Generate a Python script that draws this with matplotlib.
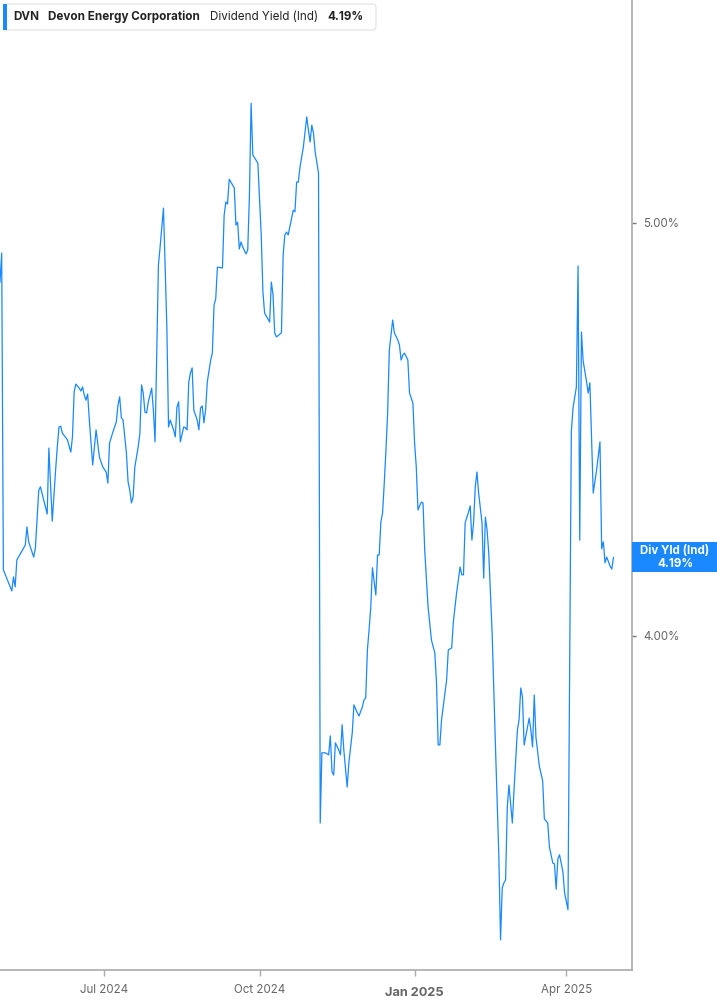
import numpy as np
import pandas as pd
import matplotlib
matplotlib.use('Agg')
import matplotlib.pyplot as plt
import matplotlib.dates as mdates
from matplotlib.patches import FancyBboxPatch, Rectangle

# dividend yield (%)
dates = ['2024-04-30', '2024-05-01', '2024-05-02', '2024-05-07', '2024-05-08', '2024-05-09',
         '2024-05-10', '2024-05-15', '2024-05-16', '2024-05-17', '2024-05-20', '2024-05-21',
         '2024-05-23', '2024-05-24', '2024-05-28', '2024-05-29', '2024-05-31', '2024-06-02',
         '2024-06-03', '2024-06-04', '2024-06-05', '2024-06-06', '2024-06-09', '2024-06-11',
         '2024-06-12', '2024-06-13', '2024-06-14', '2024-06-16', '2024-06-17', '2024-06-18',
         '2024-06-19', '2024-06-20', '2024-06-21', '2024-06-22', '2024-06-24', '2024-06-26',
         '2024-06-28', '2024-06-30', '2024-07-02', '2024-07-03', '2024-07-04', '2024-07-06',
         '2024-07-08', '2024-07-09', '2024-07-10', '2024-07-11', '2024-07-12', '2024-07-14',
         '2024-07-15', '2024-07-16', '2024-07-17', '2024-07-18', '2024-07-19', '2024-07-21',
         '2024-07-22', '2024-07-23', '2024-07-24', '2024-07-25', '2024-07-26', '2024-07-27',
         '2024-07-29', '2024-07-30', '2024-07-31', '2024-08-02', '2024-08-03', '2024-08-05',
         '2024-08-07', '2024-08-08', '2024-08-09', '2024-08-11', '2024-08-12', '2024-08-13',
         '2024-08-14', '2024-08-15', '2024-08-17', '2024-08-18', '2024-08-19', '2024-08-20',
         '2024-08-21', '2024-08-22', '2024-08-23', '2024-08-25', '2024-08-26', '2024-08-27',
         '2024-08-28', '2024-08-29', '2024-08-30', '2024-08-31', '2024-09-02', '2024-09-03',
         '2024-09-04', '2024-09-05', '2024-09-06', '2024-09-09', '2024-09-10', '2024-09-11',
         '2024-09-12', '2024-09-13', '2024-09-16', '2024-09-17', '2024-09-18', '2024-09-19',
         '2024-09-20', '2024-09-21', '2024-09-23', '2024-09-24', '2024-09-25', '2024-09-26',
         '2024-09-27', '2024-09-30', '2024-10-02', '2024-10-03', '2024-10-04', '2024-10-07',
         '2024-10-08', '2024-10-09', '2024-10-10', '2024-10-11', '2024-10-14', '2024-10-15',
         '2024-10-16', '2024-10-17', '2024-10-18', '2024-10-21', '2024-10-22', '2024-10-23',
         '2024-10-24', '2024-10-25', '2024-10-27', '2024-10-29', '2024-10-30', '2024-10-31',
         '2024-11-01', '2024-11-02', '2024-11-03', '2024-11-05', '2024-11-06', '2024-11-07',
         '2024-11-09', '2024-11-11', '2024-11-12', '2024-11-13', '2024-11-14', '2024-11-15',
         '2024-11-17', '2024-11-18', '2024-11-19', '2024-11-20', '2024-11-22', '2024-11-23',
         '2024-11-25', '2024-11-26', '2024-11-28', '2024-11-29', '2024-12-01', '2024-12-02',
         '2024-12-03', '2024-12-04', '2024-12-05', '2024-12-06', '2024-12-07', '2024-12-08',
         '2024-12-09', '2024-12-10', '2024-12-11', '2024-12-12', '2024-12-13', '2024-12-14',
         '2024-12-15', '2024-12-16', '2024-12-17', '2024-12-19', '2024-12-20', '2024-12-22',
         '2024-12-23', '2024-12-24', '2024-12-25', '2024-12-26', '2024-12-28', '2024-12-29',
         '2024-12-31', '2025-01-01', '2025-01-02', '2025-01-03', '2025-01-04', '2025-01-05',
         '2025-01-06', '2025-01-07', '2025-01-09', '2025-01-11', '2025-01-13', '2025-01-14',
         '2025-01-15', '2025-01-16', '2025-01-17', '2025-01-20', '2025-01-21', '2025-01-23',
         '2025-01-24', '2025-01-26', '2025-01-28', '2025-01-29', '2025-01-30', '2025-01-31',
         '2025-02-02', '2025-02-03', '2025-02-04', '2025-02-05', '2025-02-06', '2025-02-07',
         '2025-02-08', '2025-02-10', '2025-02-11', '2025-02-12', '2025-02-13', '2025-02-14',
         '2025-02-16', '2025-02-18', '2025-02-20', '2025-02-21', '2025-02-22', '2025-02-23',
         '2025-02-24', '2025-02-25', '2025-02-26', '2025-02-28', '2025-03-01', '2025-03-02',
         '2025-03-03', '2025-03-04', '2025-03-05', '2025-03-06', '2025-03-07', '2025-03-09',
         '2025-03-10', '2025-03-11', '2025-03-12', '2025-03-13', '2025-03-14', '2025-03-16',
         '2025-03-18', '2025-03-19', '2025-03-21', '2025-03-22', '2025-03-24', '2025-03-25',
         '2025-03-26', '2025-03-27', '2025-03-28', '2025-03-30', '2025-03-31', '2025-04-02',
         '2025-04-04', '2025-04-05', '2025-04-07', '2025-04-08', '2025-04-09', '2025-04-10',
         '2025-04-11', '2025-04-13', '2025-04-14', '2025-04-15', '2025-04-16', '2025-04-17',
         '2025-04-19', '2025-04-21', '2025-04-22', '2025-04-23', '2025-04-24', '2025-04-25',
         '2025-04-27', '2025-04-28', '2025-04-29']

yields = [4.857, 4.927, 4.160, 4.109, 4.143, 4.119,
          4.184, 4.220, 4.264, 4.228, 4.191, 4.213,
          4.353, 4.361, 4.295, 4.455, 4.278, 4.402,
          4.458, 4.506, 4.508, 4.491, 4.475, 4.445,
          4.482, 4.591, 4.610, 4.600, 4.593, 4.603,
          4.583, 4.571, 4.586, 4.523, 4.414, 4.499,
          4.433, 4.409, 4.397, 4.370, 4.467, 4.494,
          4.518, 4.559, 4.579, 4.528, 4.523, 4.443,
          4.373, 4.353, 4.322, 4.337, 4.409, 4.458,
          4.491, 4.608, 4.588, 4.542, 4.540, 4.567,
          4.600, 4.547, 4.470, 4.898, 4.942, 5.036,
          4.748, 4.506, 4.523, 4.499, 4.482, 4.554,
          4.567, 4.470, 4.506, 4.504, 4.499, 4.615,
          4.637, 4.649, 4.547, 4.523, 4.499, 4.552,
          4.557, 4.516, 4.547, 4.615, 4.668, 4.685,
          4.801, 4.816, 4.893, 4.891, 5.019, 5.051,
          5.046, 5.106, 5.085, 4.995, 5.002, 4.937,
          4.954, 4.942, 4.925, 4.935, 5.068, 5.290,
          5.165, 5.145, 4.971, 4.833, 4.782, 4.760,
          4.857, 4.826, 4.734, 4.724, 4.734, 4.922,
          4.971, 4.978, 4.971, 5.031, 5.027, 5.099,
          5.099, 5.135, 5.184, 5.257, 5.225, 5.196,
          5.237, 5.218, 5.172, 5.121, 3.547, 3.717,
          3.717, 3.712, 3.758, 3.671, 3.663, 3.741,
          3.724, 3.712, 3.785, 3.724, 3.634, 3.693,
          3.765, 3.833, 3.814, 3.806, 3.828, 3.845,
          3.850, 3.966, 4.015, 4.070, 4.165, 4.131,
          4.099, 4.196, 4.196, 4.276, 4.298, 4.370,
          4.450, 4.540, 4.692, 4.765, 4.734, 4.717,
          4.705, 4.668, 4.680, 4.685, 4.668, 4.588,
          4.564, 4.467, 4.409, 4.305, 4.315, 4.324,
          4.322, 4.208, 4.070, 3.990, 3.959, 3.886,
          3.736, 3.736, 3.797, 3.893, 3.966, 3.971,
          4.034, 4.107, 4.167, 4.148, 4.148, 4.274,
          4.300, 4.315, 4.232, 4.274, 4.361, 4.397,
          4.346, 4.274, 4.140, 4.288, 4.257, 4.201,
          4.007, 3.731, 3.465, 3.264, 3.390, 3.402,
          3.409, 3.586, 3.639, 3.547, 3.627, 3.700,
          3.772, 3.797, 3.874, 3.852, 3.736, 3.780,
          3.801, 3.772, 3.731, 3.857, 3.755, 3.685,
          3.649, 3.557, 3.547, 3.489, 3.450, 3.448,
          3.387, 3.460, 3.470, 3.429, 3.378, 3.337,
          4.494, 4.552, 4.603, 4.896, 4.232, 4.736,
          4.666, 4.617, 4.588, 4.613, 4.479, 4.346,
          4.402, 4.470, 4.211, 4.228, 4.177, 4.191,
          4.169, 4.162, 4.190]

tick_dates = ['2024-07-01', '2024-10-01', '2025-01-01', '2025-04-01']
tick_labels = ['Jul 2024', 'Oct 2024', 'Jan 2025', 'Apr 2025']
ytick_vals = [4.0, 5.0]
ytick_labels = ['4.00%', '5.00%']

ticker = 'DVN'
company = 'Devon Energy Corporation'
metric = 'Dividend Yield (Ind)'
last_label = 'Div Yld (Ind)'

blue = '#1a88ff'
grey = '#aaaaaa'

plt.rcParams['font.family'] = ['Inter', 'DejaVu Sans']

W, H = 717, 1005
fig = plt.figure(figsize=(W / 100, H / 100), dpi=100)
ax = fig.add_axes([0, 1 - 970 / H, 632 / W, 970 / H])

d = pd.to_datetime(dates)
ax.plot(d, yields, color=blue, lw=0.9)

ax.set_xlim(pd.Timestamp('2024-04-30'), pd.Timestamp('2025-05-10'))
ax.set_ylim(3.191, 5.540)

for s in ['top', 'left']:
    ax.spines[s].set_visible(False)
for s in ['right', 'bottom']:
    ax.spines[s].set_color(grey)
    ax.spines[s].set_linewidth(1.2)

ax.yaxis.tick_right()
ax.set_yticks(ytick_vals)
ax.set_yticklabels(ytick_labels)
ax.tick_params(axis='y', length=3, width=1, color='#777777', pad=5,
               labelsize=8.3, labelcolor='#666666')

ax.set_xticks(pd.to_datetime(tick_dates))
ax.set_xticklabels(tick_labels)
ax.tick_params(axis='x', length=4, width=1, color=grey, pad=6,
               labelsize=8.3, labelcolor='#666666')
for lbl in ax.get_xticklabels():
    if lbl.get_text().startswith('Jan'):
        lbl.set_fontweight('bold')
        lbl.set_fontsize(9.2)
        lbl.set_y(-0.003)

# legend box at the top left
fig.patches.append(FancyBboxPatch((4 / W, 1 - 30 / H), 372 / W, 26 / H,
                                  boxstyle='round,pad=0,rounding_size=0.004',
                                  transform=fig.transFigure, facecolor='white',
                                  edgecolor='#e2e2e2', lw=0.8, zorder=5))
fig.patches.append(Rectangle((3 / W, 1 - 30 / H), 4 / W, 26 / H,
                             transform=fig.transFigure, facecolor=blue,
                             edgecolor='none', zorder=6))
ty = 1 - 17 / H
fs = 8.4
fig.text(13 / W, ty, ticker, fontsize=fs, fontweight='bold', color='#222222',
         va='center', zorder=7)
fig.text(48 / W, ty, company, fontsize=fs, fontweight='bold', color='#222222',
         va='center', zorder=7)
fig.text(210 / W, ty, metric, fontsize=fs, color='#222222', va='center', zorder=7)
fig.text(327 / W, ty, '4.19%', fontsize=fs, fontweight='bold', color='#222222',
         va='center', zorder=7)

# last-value flag on the right axis
fig.canvas.draw()
yc = ax.transData.transform((mdates.date2num(d[-1]), yields[-1]))[1] / H
fig.patches.append(Rectangle((632 / W, yc - 15 / H), 85 / W, 30 / H,
                             transform=fig.transFigure, facecolor=blue,
                             edgecolor='none', zorder=5))
fig.text(675 / W, yc + 6 / H, last_label, fontsize=8.3, fontweight='bold',
         color='white', ha='center', va='center', zorder=7)
fig.text(675 / W, yc - 7 / H, '%.2f%%' % yields[-1], fontsize=8.3, fontweight='bold',
         color='white', ha='center', va='center', zorder=7)

fig.savefig('out.png', dpi=100)
